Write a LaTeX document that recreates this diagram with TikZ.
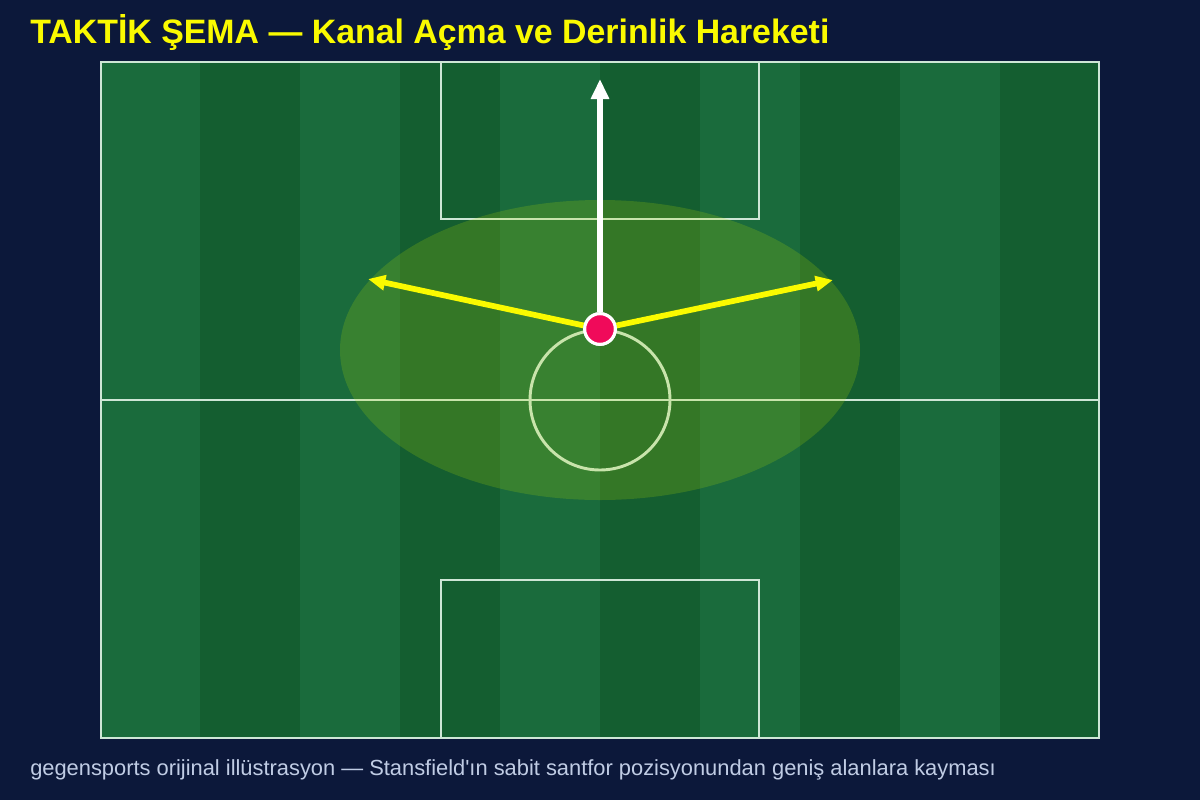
\documentclass[tikz,border=0pt]{standalone}
\usepackage{fontspec}
\setmainfont{Liberation Sans}[Ligatures=TeXOff]
\usetikzlibrary{arrows.meta}
\definecolor{bgc}{RGB}{12,24,58}
\definecolor{stripeA}{RGB}{26,107,60}
\definecolor{stripeB}{RGB}{20,94,48}
\definecolor{linec}{RGB}{206,230,214}
\definecolor{zonec}{RGB}{180,220,0}
\definecolor{titlec}{RGB}{250,250,0}
\definecolor{footc}{RGB}{192,204,228}
\definecolor{dotc}{RGB}{240,10,90}
\definecolor{arrowy}{RGB}{250,250,0}
\tikzset{
  pitchline/.style={draw=linec, line width=2.2pt},
  zone/.style={fill=zonec, fill opacity=0.2, draw=none},
  player/.style={circle, fill=dotc, draw=white, line width=2.3pt, minimum size=23pt, inner sep=0pt},
  runarrow/.style={draw=white, line width=5pt, -{Triangle[length=15pt,width=13pt]}},
  widearrow/.style={draw=arrowy, line width=4.3pt, -{Triangle[length=13pt,width=11pt]}},
  titletext/.style={anchor=base west, text=titlec, font=\fontsize{25.4pt}{30pt}\selectfont\bfseries, inner sep=0pt},
  foottext/.style={anchor=base west, text=footc, font=\fontsize{16.4pt}{19pt}\selectfont, inner sep=0pt}
}
\begin{document}
\begin{tikzpicture}[x=0.75pt,y=-0.75pt]
\useasboundingbox (0,0) rectangle (1200,800);
\fill[bgc] (0,0) rectangle (1200,800);
% stripes
\foreach \i in {0,...,9}{
  \pgfmathtruncatemacro{\odd}{mod(\i,2)}
  \ifnum\odd=0
    \fill[stripeA] (100+100*\i,62) rectangle (200+100*\i,738);
  \else
    \fill[stripeB] (100+100*\i,62) rectangle (200+100*\i,738);
  \fi
}
% pitch lines
\draw[pitchline] (101,62) rectangle (1099,738);
\draw[pitchline] (101,400) -- (1099,400);
\draw[pitchline] (600,400) circle[radius=70];
\draw[pitchline] (441,62) rectangle (759,219);
\draw[pitchline] (441,738) rectangle (759,580);
% zone
\fill[zone] (600,350) ellipse[x radius=260, y radius=150];
% player and arrows
\node[player] (p) at (600,329) {};
\coordinate (up) at (600,79);
\coordinate (lt) at (368,279);
\coordinate (rt) at (833,280);
\draw[runarrow] (p.north) -- (up);
\draw[widearrow] (p) -- (lt);
\draw[widearrow] (p) -- (rt);
\node[player] at (600,329) {};
% texts
\node[titletext] (title) at (30,43) {TAKTİK ŞEMA — Kanal Açma ve Derinlik Hareketi};
\node[foottext] (foot) at (30,775) {gegensports orijinal illüstrasyon — Stansfield'ın sabit santfor pozisyonundan geniş alanlara kayması};
\end{tikzpicture}
\end{document}
